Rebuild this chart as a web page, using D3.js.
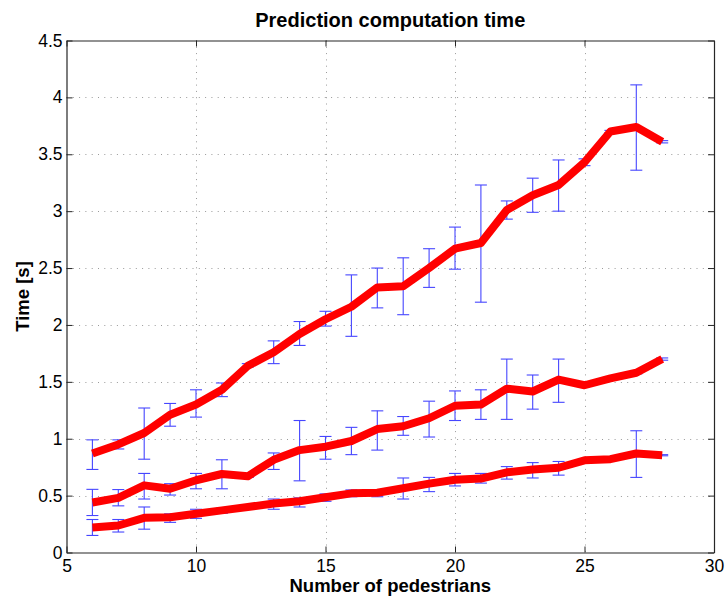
<!DOCTYPE html>
<html>
<head>
<meta charset="utf-8">
<script src="https://cdn.jsdelivr.net/npm/d3@7"></script>
<style>
  html, body { margin: 0; padding: 0; background: #fff; }
  svg text { font-family: "Liberation Sans", Arial, sans-serif; fill: #000; }
</style>
</head>
<body>
<svg id="chart" width="725" height="597"></svg>
<script>
// ---- data ----
const pedestrians = [6, 7, 8, 9, 10, 11, 12, 13, 14, 15, 16, 17, 18, 19, 20, 21, 22, 23, 24, 25, 26, 27, 28];

const highMean  = [0.87, 0.95, 1.05, 1.21, 1.30, 1.43, 1.64, 1.76, 1.92, 2.05, 2.16, 2.33, 2.34, 2.50, 2.67, 2.72, 3.01, 3.14, 3.23, 3.43, 3.70, 3.74, 3.61];
const highLower = [0.73, 0.91, 0.82, 1.11, 1.19, 1.37, 1.63, 1.66, 1.82, 1.99, 1.90, 2.15, 2.09, 2.33, 2.49, 2.20, 2.93, 2.99, 3.00, 3.40, 3.69, 3.36, 3.60];
const highUpper = [0.99, 0.99, 1.27, 1.31, 1.43, 1.49, 1.66, 1.86, 2.03, 2.12, 2.44, 2.50, 2.59, 2.67, 2.86, 3.23, 3.09, 3.29, 3.45, 3.46, 3.71, 4.11, 3.62];

const midMean  = [0.44, 0.48, 0.59, 0.56, 0.635, 0.69, 0.67, 0.815, 0.90, 0.93, 0.98, 1.085, 1.11, 1.18, 1.29, 1.30, 1.44, 1.415, 1.52, 1.47, 1.53, 1.58, 1.70];
const midLower = [0.325, 0.41, 0.47, 0.505, 0.56, 0.56, 0.66, 0.73, 0.63, 0.82, 0.86, 0.90, 1.03, 1.015, 1.16, 1.17, 1.17, 1.26, 1.32, 1.46, 1.52, 1.57, 1.69];
const midUpper = [0.555, 0.553, 0.695, 0.605, 0.695, 0.815, 0.68, 0.875, 1.16, 1.02, 1.10, 1.245, 1.195, 1.33, 1.42, 1.43, 1.70, 1.56, 1.70, 1.48, 1.54, 1.59, 1.71];

const lowMean  = [0.22, 0.237, 0.305, 0.31, 0.34, 0.37, 0.40, 0.43, 0.45, 0.485, 0.52, 0.525, 0.565, 0.605, 0.64, 0.65, 0.705, 0.73, 0.745, 0.81, 0.82, 0.87, 0.855];
const lowLower = [0.15, 0.18, 0.205, 0.265, 0.30, 0.345, 0.39, 0.38, 0.40, 0.45, 0.49, 0.49, 0.47, 0.535, 0.585, 0.61, 0.645, 0.655, 0.68, 0.80, 0.81, 0.66, 0.85];
const lowUpper = [0.29, 0.29, 0.40, 0.34, 0.38, 0.39, 0.41, 0.47, 0.48, 0.515, 0.55, 0.55, 0.655, 0.66, 0.695, 0.695, 0.755, 0.79, 0.80, 0.82, 0.83, 1.07, 0.86];

const xTicks = [5, 10, 15, 20, 25, 30];
const yTicks = [0, 0.5, 1, 1.5, 2, 2.5, 3, 3.5, 4, 4.5];

const titleText = "Prediction computation time";
const xLabel = "Number of pedestrians";
const yLabel = "Time [s]";

// ---- layout ----
const pLeft = 66.5, pRight = 714, pTop = 40.5, pBottom = 552.5;
const svg = d3.select("#chart");

const x = d3.scaleLinear().domain([5, 30]).range([pLeft, pRight]);
const y = d3.scaleLinear().domain([0, 4.5]).range([pBottom, pTop]);

const series = [
  { mean: lowMean, lo: lowLower, hi: lowUpper },
  { mean: midMean, lo: midLower, hi: midUpper },
  { mean: highMean, lo: highLower, hi: highUpper }
];

// grid
const grid = svg.append("g");
grid.selectAll("line.gx").data(xTicks.slice(1, -1)).join("line")
  .attr("x1", d => Math.round(x(d)) + 0.5).attr("x2", d => Math.round(x(d)) + 0.5)
  .attr("y1", pTop).attr("y2", pBottom)
  .attr("stroke", "#9a9a9a").attr("stroke-width", 1).attr("stroke-dasharray", "1,5.3");
grid.selectAll("line.gy").data(yTicks.slice(1, -1)).join("line")
  .attr("y1", d => Math.round(y(d)) + 0.5).attr("y2", d => Math.round(y(d)) + 0.5)
  .attr("x1", pLeft).attr("x2", pRight)
  .attr("stroke", "#9a9a9a").attr("stroke-width", 1).attr("stroke-dasharray", "1,5.3");

// error bars
const capHalf = 6;
const eb = svg.append("g").attr("stroke", "#4646ff").attr("stroke-width", 1.1).attr("fill", "none");
series.forEach(s => {
  pedestrians.forEach((p, i) => {
    const cx = x(p);
    eb.append("line").attr("x1", cx).attr("x2", cx).attr("y1", y(s.lo[i])).attr("y2", y(s.hi[i]));
    eb.append("line").attr("x1", cx - capHalf).attr("x2", cx + capHalf).attr("y1", y(s.lo[i])).attr("y2", y(s.lo[i]));
    eb.append("line").attr("x1", cx - capHalf).attr("x2", cx + capHalf).attr("y1", y(s.hi[i])).attr("y2", y(s.hi[i]));
  });
});

// lines
const line = d3.line().x((d, i) => x(pedestrians[i])).y(d => y(d));
series.forEach(s => {
  svg.append("path").datum(s.mean).attr("d", line)
    .attr("fill", "none").attr("stroke", "#ff0000").attr("stroke-width", 8)
    .attr("stroke-linejoin", "round").attr("stroke-linecap", "butt");
});

// axes with inward ticks (box)
const axCol = "#262626";
const tickLen = 6;
const xAxisB = d3.axisBottom(x).tickValues(xTicks).tickSizeInner(-tickLen).tickSizeOuter(0).tickPadding(7).tickFormat(d3.format("d"));
const xAxisT = d3.axisTop(x).tickValues(xTicks).tickSizeInner(-tickLen).tickSizeOuter(0).tickFormat("");
const yAxisL = d3.axisLeft(y).tickValues(yTicks).tickSizeInner(-tickLen).tickSizeOuter(0).tickPadding(4).tickFormat(d => d3.format("")(d));
const yAxisR = d3.axisRight(y).tickValues(yTicks).tickSizeInner(-tickLen).tickSizeOuter(0).tickFormat("");

function styleAxis(g) {
  g.select(".domain").attr("stroke", axCol).attr("stroke-width", 1.2);
  g.selectAll(".tick line").attr("stroke", axCol);
  g.selectAll(".tick text").attr("font-family", "Liberation Sans, Arial, sans-serif").attr("font-size", 17.5).attr("fill", "#000");
}
svg.append("g").attr("transform", `translate(0,${pBottom})`).call(xAxisB).call(styleAxis);
svg.append("g").attr("transform", `translate(0,${pTop})`).call(xAxisT).call(styleAxis);
svg.append("g").attr("transform", `translate(${pLeft},0)`).call(yAxisL).call(styleAxis);
svg.append("g").attr("transform", `translate(${pRight},0)`).call(yAxisR).call(styleAxis);

// title and labels
svg.append("text").attr("x", (pLeft + pRight) / 2).attr("y", 27)
  .attr("text-anchor", "middle").attr("font-weight", "bold").attr("font-size", 20).text(titleText);
svg.append("text").attr("x", (pLeft + pRight) / 2).attr("y", 592)
  .attr("text-anchor", "middle").attr("font-weight", "bold").attr("font-size", 18.5).text(xLabel);
svg.append("text").attr("transform", `translate(29,${(pTop + pBottom) / 2}) rotate(-90)`)
  .attr("text-anchor", "middle").attr("font-weight", "bold").attr("font-size", 18.5).text(yLabel);
</script>
</body>
</html>
